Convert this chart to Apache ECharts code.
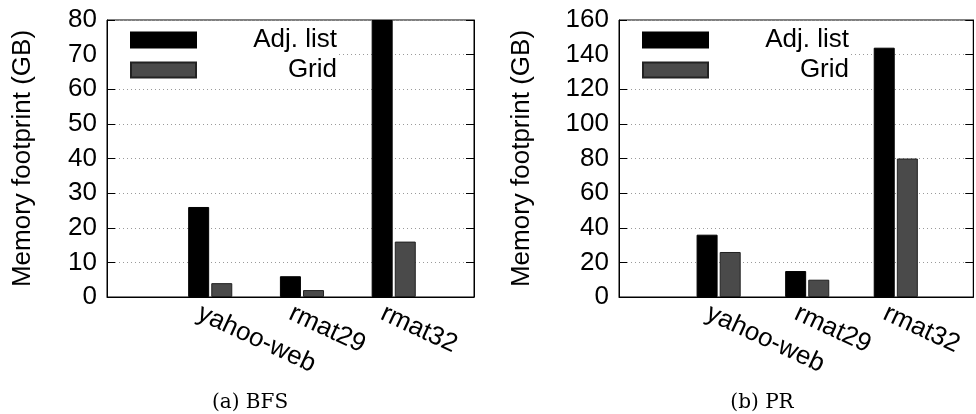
<!DOCTYPE html>
<html>
<head>
<meta charset="utf-8">
<script src="https://cdn.jsdelivr.net/npm/echarts@6/dist/echarts.min.js"></script>
<style>
  html, body { margin: 0; padding: 0; background: #fff; }
  #chart { width: 976px; height: 414px; }
</style>
</head>
<body>
<div id="chart"></div>
<script>
// Graphs on the x axis and the two layouts compared
const categories = ['yahoo-web', 'rmat29', 'rmat32'];
const seriesNames = ['Adj. list', 'Grid'];

// Memory footprint in GB
const bfsAdjList = [26, 6, 80];
const bfsGrid = [4, 2, 16];
const prAdjList = [36, 15, 144];
const prGrid = [26, 10, 80];

// Y axis scales
const bfsScale = { min: 0, max: 80, interval: 10 };
const prScale = { min: 0, max: 160, interval: 20 };

const captions = ['(a) BFS', '(b) PR'];
const yTitle = 'Memory footprint (GB)';

const SANS = 'Liberation Sans';
const FS = 26;
const GROUP_SHIFT = 0.125;   // bar clusters sit slightly right of the label ticks

const panels = [
  { grid: { left: 107, right: 502, top: 20, bottom: 117 }, scale: bfsScale, adj: bfsAdjList, grd: bfsGrid, nameGap: 71, caption: captions[0], capX: 250 },
  { grid: { left: 619, right: -10, top: 20, bottom: 117 }, scale: prScale, adj: prAdjList, grd: prGrid, nameGap: 84, caption: captions[1], capX: 762 }
];

const colors = { adj: '#000000', grid: '#4a4a4a' };

function xAxisFor(gridIndex) {
  return {
    type: 'value', gridIndex, min: 0, max: 4, interval: 1,
    axisLine: { show: true, onZero: false, lineStyle: { color: '#000', width: 1 } },
    axisTick: { show: false },
    splitLine: { show: false },
    axisLabel: {
      rotate: -25, margin: 15, fontSize: FS, fontFamily: SANS, color: '#000',
      formatter: v => categories[v - 1] || ''
    }
  };
}

function yAxisFor(gridIndex, s, position, nameGap) {
  const left = position === 'left';
  return {
    type: 'value', gridIndex, position, min: s.min, max: s.max, interval: s.interval,
    name: left ? yTitle : '', nameLocation: 'middle', nameRotate: 90, nameGap,
    nameTextStyle: { fontSize: FS, fontFamily: SANS, color: '#000' },
    axisLine: { show: true, lineStyle: { color: '#000', width: 1 } },
    axisTick: { show: true, inside: true, length: 8, lineStyle: { color: '#000' } },
    axisLabel: { show: left, fontSize: FS, fontFamily: SANS, color: '#000', margin: 10 },
    splitLine: { show: left, lineStyle: { color: '#9a9a9a', width: 1, type: [1, 3] } }
  };
}

const grids = [], xAxes = [], yAxes = [], series = [], legends = [], graphics = [];
panels.forEach((p, k) => {
  grids.push(Object.assign({ show: true, borderColor: '#000', borderWidth: 1, containLabel: false }, p.grid));
  xAxes.push(xAxisFor(k));
  yAxes.push(yAxisFor(k, p.scale, 'left', p.nameGap));
  yAxes.push(yAxisFor(k, p.scale, 'right', 0));
  const pos = i => i + 1 + GROUP_SHIFT;
  series.push({
    name: seriesNames[0], type: 'bar', xAxisIndex: k, yAxisIndex: 2 * k,
    barWidth: 21, barGap: '10%',
    itemStyle: { color: colors.adj, borderColor: '#000', borderWidth: 1 },
    data: p.adj.map((v, i) => [pos(i), v])
  });
  series.push({
    name: seriesNames[1], type: 'bar', xAxisIndex: k, yAxisIndex: 2 * k,
    barWidth: 21, barGap: '10%',
    itemStyle: { color: colors.grid, borderColor: '#222', borderWidth: 1 },
    data: p.grd.map((v, i) => [pos(i), v])
  });
  legends.push({
    data: seriesNames, orient: 'vertical', left: p.grid.left + 1, top: 22,
    padding: [5, 2, 5, 22], backgroundColor: '#fff',
    icon: 'rect', itemWidth: 65, itemHeight: 15, itemGap: 4, selectedMode: false,
    formatter: n => '{r|' + n + '}',
    textStyle: { rich: { r: { width: 136, align: 'right', fontSize: FS, lineHeight: 28, fontFamily: SANS, color: '#000' } } }
  });
  graphics.push({
    type: 'text', x: p.capX, y: 403,
    style: { text: p.caption, align: 'center', verticalAlign: 'middle', font: '20px "DejaVu Serif"', fill: '#000' }
  });
});

const chart = echarts.init(document.getElementById('chart'), null, { renderer: 'canvas' });
chart.setOption({
  animation: false,
  backgroundColor: '#fff',
  grid: grids,
  xAxis: xAxes,
  yAxis: yAxes,
  legend: legends,
  series,
  graphic: graphics
});
</script>
</body>
</html>
